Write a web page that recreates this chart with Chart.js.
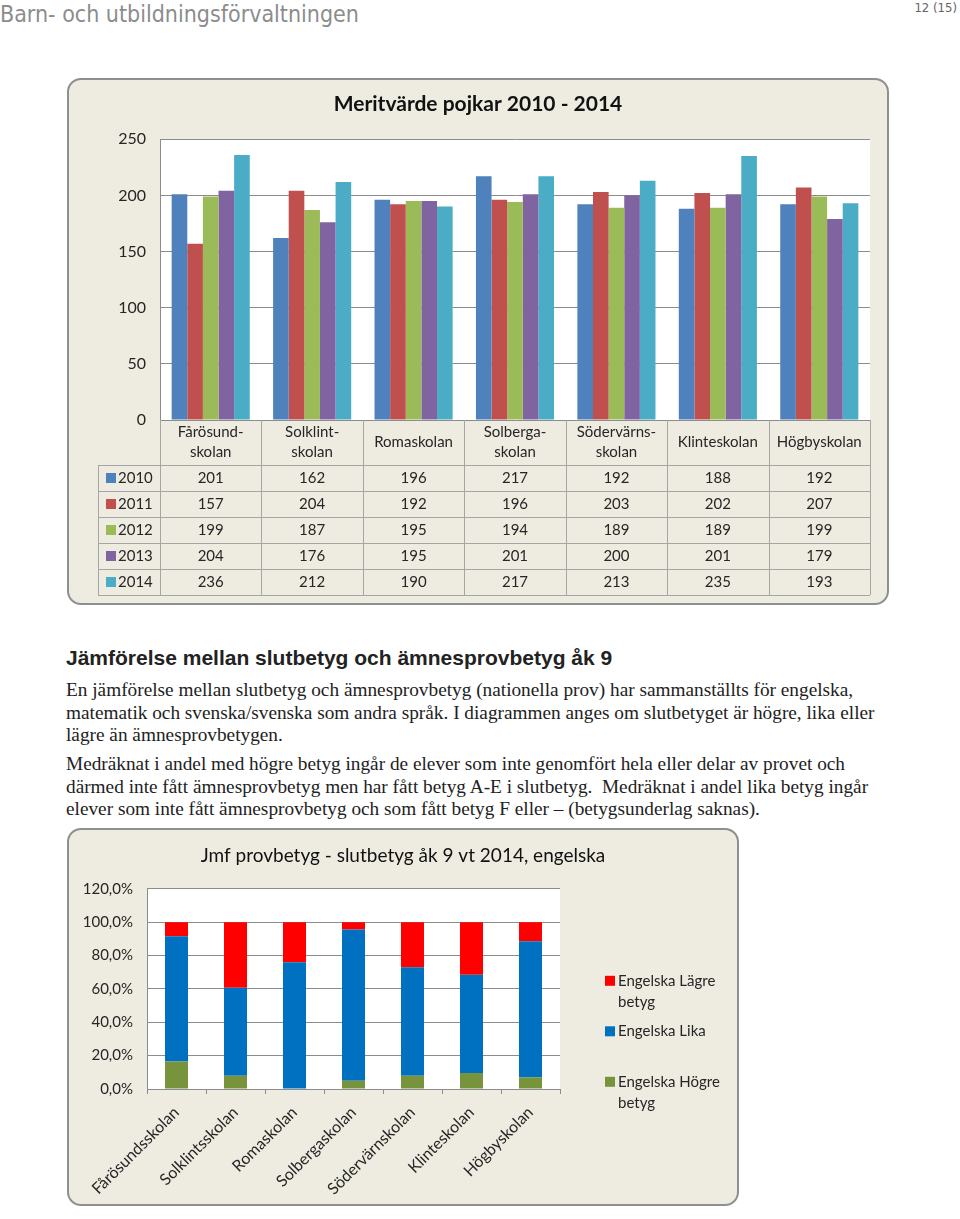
<!DOCTYPE html>
<html>
<head>
<meta charset="utf-8">
<script src="https://cdn.jsdelivr.net/npm/chart.js@4.4.1/dist/chart.umd.min.js"></script>
<style>
  body { margin: 0; background: #fff; width: 960px; height: 1219px; position: relative; overflow: hidden; }
  .hdr { position: absolute; left: 0; top: 1px; font: 23px "DejaVu Sans Condensed", "Liberation Sans Narrow", sans-serif; color: #8c8c8c; }
  .pg { position: absolute; right: 3px; top: 0px; font: 13px "DejaVu Sans Condensed", sans-serif; color: #666; }
  .box { position: absolute; box-sizing: border-box; border: 2px solid #8f8f8f; border-radius: 14px; background: #eeece1; }
  .box canvas { position: absolute; left: 0; top: 0; }
  h2 { position: absolute; left: 66px; top: 646px; margin: 0; font: bold 21px "Liberation Sans", Arial, sans-serif; color: #222; }
  .txt { position: absolute; left: 66px; margin: 0; font: 19.3px "Liberation Serif", serif; color: #222; line-height: 22.5px; white-space: nowrap; }
</style>
</head>
<body>
<div class="hdr">Barn- och utbildningsförvaltningen</div>
<div class="pg">12 (15)</div>

<div class="box" style="left:67px;top:78px;width:822px;height:527px;">
  <canvas id="meritChart" width="818" height="523"></canvas>
</div>

<h2>Jämförelse mellan slutbetyg och ämnesprovbetyg åk 9</h2>
<p class="txt" style="top:679px;">En jämförelse mellan slutbetyg och ämnesprovbetyg (nationella prov) har sammanställts för engelska,<br>matematik och svenska/svenska som andra språk. I diagrammen anges om slutbetyget är högre, lika eller<br>lägre än ämnesprovbetygen.</p>
<p class="txt" style="top:753px;">Medräknat i andel med högre betyg ingår de elever som inte genomfört hela eller delar av provet och<br>därmed inte fått ämnesprovbetyg men har fått betyg A-E i slutbetyg.&nbsp; Medräknat i andel lika betyg ingår<br>elever som inte fått ämnesprovbetyg och som fått betyg F eller – (betygsunderlag saknas).</p>

<div class="box" style="left:67px;top:828px;width:672px;height:378px;">
  <canvas id="jmfChart" width="668" height="374"></canvas>
</div>

<script>
// Meritvärde pojkar
const schools = [['Fårösund-', 'skolan'], ['Solklint-', 'skolan'], ['Romaskolan'], ['Solberga-', 'skolan'],
                 ['Södervärns-', 'skolan'], ['Klinteskolan'], ['Högbyskolan']];
const years = ['2010', '2011', '2012', '2013', '2014'];
const v2010 = [201, 162, 196, 217, 192, 188, 192];
const v2011 = [157, 204, 192, 196, 203, 202, 207];
const v2012 = [199, 187, 195, 194, 189, 189, 199];
const v2013 = [204, 176, 195, 201, 200, 201, 179];
const v2014 = [236, 212, 190, 217, 213, 235, 193];
const meritTicks = [0, 50, 100, 150, 200, 250];

// Jmf provbetyg - slutbetyg, engelska (procent)
const schools2 = ['Fårösundsskolan', 'Solklintsskolan', 'Romaskolan', 'Solbergaskolan', 'Södervärnskolan', 'Klinteskolan', 'Högbyskolan'];
const hogre = [16.5, 8, 0, 5, 8, 9.6, 7];
const lika = [75, 52.7, 76, 90.6, 65, 58.9, 81.6];
const lagre = [8.5, 39.3, 24, 4.4, 27, 31.5, 11.4];
const pctTicks = [0, 20, 40, 60, 80, 100, 120];

const FONT = 'Lato, "Open Sans", sans-serif';
const TXT = '#262626';
const GRID = '#8c8c8c';

const tablePlugin = {
  id: 'dataTable',
  afterDraw(chart) {
    const { ctx, chartArea: a, scales: { x } } = chart;
    const n = schools.length, w = a.width / n;
    const top = a.bottom, headH = 45, rowH = 26, left = 29;
    const bottom = top + headH + rowH * years.length;
    ctx.save();
    ctx.strokeStyle = '#a6a6a6';
    ctx.lineWidth = 1;
    ctx.beginPath();
    for (let i = 0; i <= n; i++) {
      const px = Math.round(a.left + i * w) + 0.5;
      ctx.moveTo(px, top); ctx.lineTo(px, bottom);
    }
    ctx.moveTo(left + 0.5, top + headH); ctx.lineTo(left + 0.5, bottom);
    for (let r = 0; r <= years.length; r++) {
      const py = Math.round(top + headH + r * rowH) + 0.5;
      ctx.moveTo(left, py); ctx.lineTo(a.right, py);
    }
    ctx.stroke();

    ctx.font = '15px ' + FONT;
    ctx.fillStyle = TXT;
    ctx.textAlign = 'center';
    ctx.textBaseline = 'middle';
    schools.forEach((lines, i) => {
      const cx = x.getPixelForValue(i);
      lines.forEach((t, j) => ctx.fillText(t, cx, top + headH / 2 + (j - (lines.length - 1) / 2) * 20));
    });
    chart.data.datasets.forEach((ds, r) => {
      const cy = top + headH + r * rowH + rowH / 2;
      ctx.fillStyle = ds.backgroundColor;
      ctx.fillRect(left + 8, cy - 5, 10, 10);
      ctx.fillStyle = TXT;
      ctx.textAlign = 'left';
      ctx.fillText(ds.label, left + 20, cy);
      ctx.textAlign = 'center';
      ds.data.forEach((v, i) => ctx.fillText(v, x.getPixelForValue(i), cy));
    });
    ctx.restore();
  }
};

const plotBg = {
  id: 'plotBg',
  beforeDraw(chart) {
    const { ctx, chartArea: a } = chart;
    ctx.save(); ctx.fillStyle = '#fff'; ctx.fillRect(a.left, a.top, a.width, a.height); ctx.restore();
  }
};

new Chart(document.getElementById('meritChart'), {
  type: 'bar',
  data: {
    labels: schools,
    datasets: [
      { label: years[0], data: v2010, backgroundColor: '#4f81bd' },
      { label: years[1], data: v2011, backgroundColor: '#c0504d' },
      { label: years[2], data: v2012, backgroundColor: '#9bbb59' },
      { label: years[3], data: v2013, backgroundColor: '#8064a2' },
      { label: years[4], data: v2014, backgroundColor: '#4bacc6' }
    ]
  },
  options: {
    responsive: false,
    animation: false,
    layout: { padding: { left: 17, right: 17, top: 0, bottom: 183 } },
    datasets: { bar: { categoryPercentage: 0.77, barPercentage: 1 } },
    plugins: {
      legend: { display: false },
      tooltip: { enabled: false },
      title: {
        display: true,
        text: 'Meritvärde pojkar 2010 - 2014',
        color: '#111',
        font: { family: FONT, size: 21, weight: 'bold' },
        padding: { top: 12, bottom: 22 }
      }
    },
    scales: {
      x: { display: false },
      y: {
        min: 0, max: 250,
        afterBuildTicks: s => { s.ticks = meritTicks.map(v => ({ value: v })); },
        afterFit: s => { s.width = 74; },
        ticks: { color: TXT, padding: 14, font: { family: FONT, size: 16 } },
        grid: { color: GRID, drawTicks: false },
        border: { display: true, color: GRID }
      }
    }
  },
  plugins: [tablePlugin, plotBg]
});

const sideLegend = {
  id: 'sideLegend',
  afterDraw(chart) {
    const { ctx, chartArea: a } = chart;
    ctx.save();
    ctx.font = '15px ' + FONT;
    ctx.textBaseline = 'middle';
    ctx.textAlign = 'left';
    const x0 = a.right + 45;
    const items = chart.data.datasets.slice().reverse();
    items.forEach((ds, i) => {
      const y0 = a.top + 92 + i * 50.5;
      const words = ds.label.split(' ');
      const lines = [];
      let cur = '';
      words.forEach(wd => {
        const test = cur ? cur + ' ' + wd : wd;
        if (ctx.measureText(test).width > 115 && cur) { lines.push(cur); cur = wd; } else cur = test;
      });
      lines.push(cur);
      ctx.fillStyle = ds.backgroundColor;
      ctx.fillRect(x0, y0 - 5, 10, 10);
      ctx.fillStyle = TXT;
      lines.forEach((t, j) => ctx.fillText(t, x0 + 13, y0 + j * 21));
    });
    ctx.restore();
  }
};

new Chart(document.getElementById('jmfChart'), {
  type: 'bar',
  data: {
    labels: schools2,
    datasets: [
      { label: 'Engelska Högre betyg', data: hogre, backgroundColor: '#77933c' },
      { label: 'Engelska Lika', data: lika, backgroundColor: '#0070c0' },
      { label: 'Engelska Lägre betyg', data: lagre, backgroundColor: '#ff0000' }
    ]
  },
  options: {
    responsive: false,
    animation: false,
    layout: { padding: 0 },
    datasets: { bar: { categoryPercentage: 1, barPercentage: 0.39 } },
    plugins: {
      legend: { display: false },
      tooltip: { enabled: false },
      title: {
        display: true,
        text: 'Jmf provbetyg - slutbetyg åk 9 vt 2014, engelska',
        color: '#111',
        font: { family: FONT, size: 19, weight: 'normal' },
        padding: { top: 14, bottom: 22 }
      }
    },
    scales: {
      x: {
        stacked: true,
        afterFit: s => { s.height = 115; },
        ticks: { color: TXT, minRotation: 45, maxRotation: 45, padding: 9, font: { family: FONT, size: 16 } },
        grid: { drawOnChartArea: false, color: GRID, tickLength: 5 },
        border: { display: true, color: GRID }
      },
      y: {
        stacked: true,
        min: 0, max: 120,
        afterBuildTicks: s => { s.ticks = pctTicks.map(v => ({ value: v })); },
        afterFit: s => { s.width = 78; },
        ticks: {
          color: TXT, padding: 14, font: { family: FONT, size: 15 },
          callback: v => v.toFixed(1).replace('.', ',') + '%'
        },
        grid: { color: GRID, drawTicks: false },
        border: { display: true, color: GRID }
      },
      pad: {
        position: 'right',
        display: true,
        afterFit: s => { s.width = 177; },
        ticks: { display: false },
        grid: { display: false },
        border: { display: false }
      }
    }
  },
  plugins: [sideLegend, plotBg]
});
</script>
</body>
</html>
